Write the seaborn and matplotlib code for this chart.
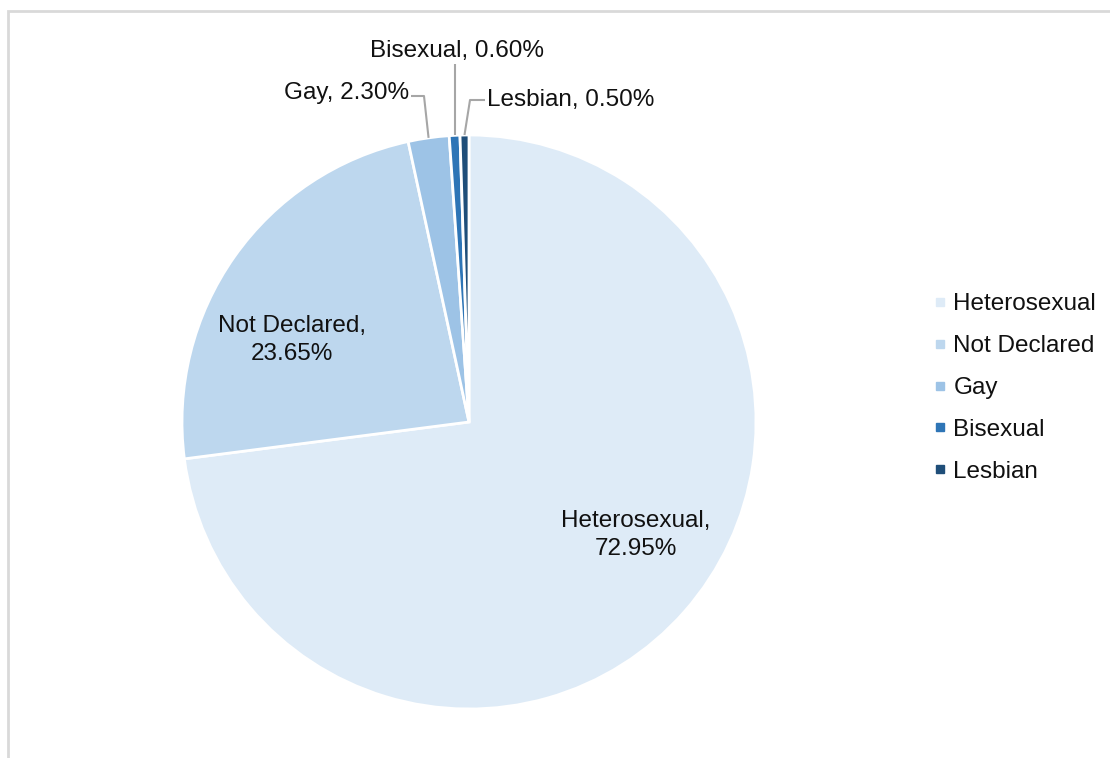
import numpy as np
import matplotlib
matplotlib.use("Agg")
import matplotlib.pyplot as plt
from matplotlib.lines import Line2D
from matplotlib.patches import Rectangle
import seaborn as sns

categories = ["Heterosexual", "Not Declared", "Gay", "Bisexual", "Lesbian"]
shares = [72.95, 23.65, 2.30, 0.60, 0.50]
value_labels = ["72.95%", "23.65%", "2.30%", "0.60%", "0.50%"]
colors = ["#DEEBF7", "#BDD7EE", "#9DC3E6", "#2E75B6", "#1F4E79"]

sns.set_theme(style="white")
plt.rcParams["font.family"] = ["Liberation Sans", "DejaVu Sans"]

W, H = 1110, 758
fig = plt.figure(figsize=(W / 100, H / 100), dpi=100)

# pie center and radius in pixels
cx, cy, r = 469, 422, 287
ax = fig.add_axes([(cx - r) / W, (H - cy - r) / H, 2 * r / W, 2 * r / H])
ax.axis("off")

wedges, _ = ax.pie(shares, colors=colors, startangle=90, counterclock=False,
                   radius=1, wedgeprops=dict(edgecolor="white", linewidth=2))
for w in wedges:
    w.set_clip_on(False)
ax.set_xlim(-1, 1)
ax.set_ylim(-1, 1)
ax.set_aspect("equal")

fs = 17.5
txt = dict(fontsize=fs, color="#111111")

def px(x, y):
    return (x - cx) / r, (cy - y) / r

def mid_point(i, rad=1.0):
    w = wedges[i]
    a = np.deg2rad((w.theta1 + w.theta2) / 2)
    return rad * np.cos(a), rad * np.sin(a)

# inside labels
ax.text(*px(636, 535), f"{categories[0]},\n{value_labels[0]}", ha="center", va="center",
        linespacing=1.3, **txt)
ax.text(*px(292, 340), f"{categories[1]},\n{value_labels[1]}", ha="center", va="center",
        linespacing=1.3, **txt)

lead = dict(color="#A6A6A6", lw=1.5, clip_on=False, solid_capstyle="butt")

# Gay
ex, ey = mid_point(2)
bx, by = px(424, 96)
tx, _ = px(411, 96)
ax.plot([ex, bx, tx], [ey, by, by], **lead)
ax.text(tx - 0.007, by + 0.01, f"{categories[2]}, {value_labels[2]}", ha="right", va="center", **txt)

# Bisexual
ex, ey = mid_point(3)
_, by = px(0, 64)
ax.plot([ex, ex], [ey, by], **lead)
ax.text(*px(457, 51), f"{categories[3]}, {value_labels[3]}", ha="center", va="center", **txt)

# Lesbian
ex, ey = mid_point(4)
bx, by = px(470, 100)
tx, _ = px(485, 100)
ax.plot([ex, bx, tx], [ey, by, by], **lead)
ax.text(tx + 0.006, by, f"{categories[4]}, {value_labels[4]}", ha="left", va="center", **txt)

# legend
handles = [Line2D([], [], marker="s", linestyle="none", markersize=5.8,
                  markerfacecolor=c, markeredgecolor=c) for c in colors]
leg = fig.legend(handles, categories, loc="center left", bbox_to_anchor=(934 / W, 1 - 388 / H),
                 frameon=False, fontsize=fs, handlelength=0.5, handletextpad=0.3,
                 labelspacing=0.82, borderaxespad=0, borderpad=0)
for t in leg.get_texts():
    t.set_color("#111111")

# outer frame (top and left edges visible)
fig.add_artist(Rectangle((8 / W, -0.1), 1.2, 1 - 11 / H + 0.1, transform=fig.transFigure,
                         fill=False, edgecolor="#D9D9D9", linewidth=2))

fig.savefig("out.png", dpi=100)
